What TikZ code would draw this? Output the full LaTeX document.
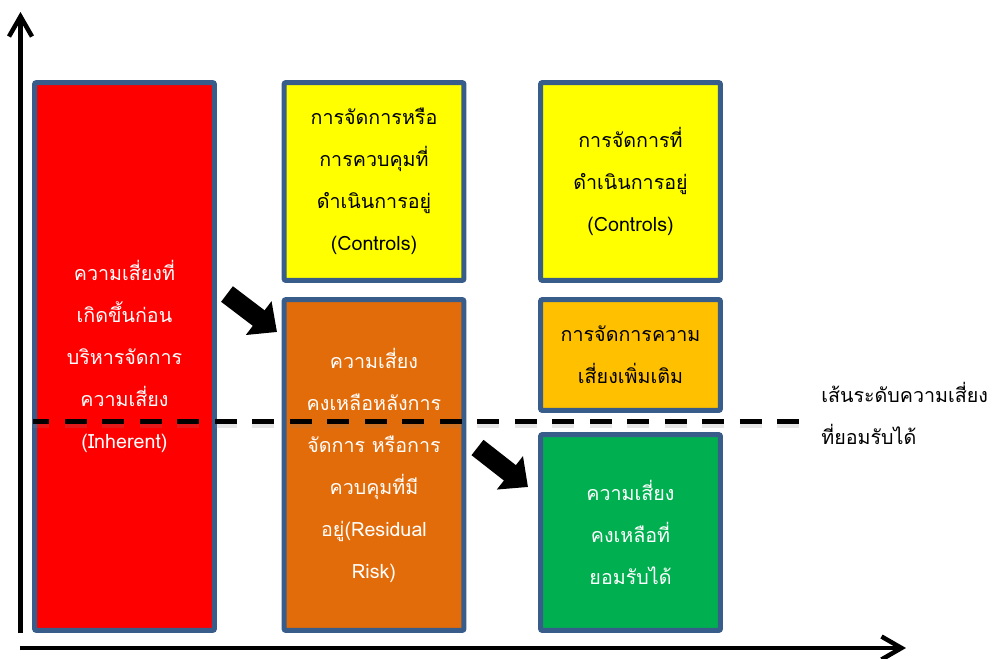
\documentclass[tikz,border=0pt]{standalone}
\usepackage{fontspec}
\newfontfamily\thaifont[Script=Thai]{Loma}
\usetikzlibrary{arrows.meta}
\definecolor{boxline}{RGB}{56,93,138}
\definecolor{riskred}{RGB}{255,0,0}
\definecolor{ctlyellow}{RGB}{255,255,0}
\definecolor{resorange}{RGB}{227,108,10}
\definecolor{addgold}{RGB}{255,192,0}
\definecolor{accgreen}{RGB}{0,176,80}
\begin{document}
\begin{tikzpicture}[x=0.02cm,y=-0.02cm,
  riskbox/.style={draw=boxline,line width=0.1cm,rounded corners=0.04cm,minimum width=3.6cm,inner sep=0pt,align=center,font=\thaifont\fontsize{11.2}{23.9}\selectfont},
  blockarrow/.style={line width=0.39cm,-{Triangle[length=0.46cm,width=0.82cm]}},
  axis/.style={line width=0.09cm,-{Straight Barb[length=0.4cm,width=0.46cm]}},
  level/.style={line width=0.1cm,dash pattern=on 0.44cm off 0.31cm,dash phase=0.11cm}]
\useasboundingbox (0,0) rectangle (994,659);
%\draw[step=50,gray,very thin] (0,0) grid (994,659); %background grid
% axes
\coordinate (o) at (20.5,633);
\coordinate (ytop) at (20.5,12);
\coordinate (xleft) at (20,648);
\coordinate (xright) at (906,648);
\draw[axis] (o) -- (ytop);
\draw[axis] (xleft) -- (xright);
% boxes
\node[riskbox,fill=riskred,text=white,minimum height=10.96cm] (inh) at (124.5,356.5)
  {ความเสี่ยงที่\\เกิดขึ้นก่อน\\บริหารจัดการ\\ความเสี่ยง\\(Inherent)};
\node[riskbox,fill=ctlyellow,minimum height=3.96cm] (ctl) at (374,181.5)
  {การจัดการหรือ\\การควบคุมที่\\ดำเนินการอยู่\\(Controls)};
\node[riskbox,fill=resorange,text=white,minimum height=6.62cm] (res) at (374,465)
  {ความเสี่ยง\\คงเหลือหลังการ\\จัดการ หรือการ\\ควบคุมที่มี\\อยู่(Residual\\Risk)};
\node[riskbox,fill=ctlyellow,minimum height=3.96cm] (ctlb) at (630.5,181.5)
  {การจัดการที่\\ดำเนินการอยู่\\(Controls)};
\node[riskbox,fill=addgold,minimum height=2.22cm] (add) at (630.5,355)
  {การจัดการความ\\เสี่ยงเพิ่มเติม};
\node[riskbox,fill=accgreen,text=white,minimum height=3.92cm] (acc) at (630.5,532.5)
  {ความเสี่ยง\\คงเหลือที่\\ยอมรับได้};
% acceptable level line
\coordinate (lvlL) at (33,421.5);
\coordinate (lvlR) at (799,421.5);
\draw[level,gray,opacity=0.2,line width=0.14cm,transform canvas={yshift=-0.06cm}] (lvlL) -- (lvlR);
\draw[level] (lvlL) -- (lvlR);
\node[anchor=west,align=left,inner sep=0pt,font=\thaifont\fontsize{11.2}{23.9}\selectfont] (lvltxt) at (821,413)
  {เส้นระดับความเสี่ยง\\ที่ยอมรับได้};
% block arrows
\coordinate (a1s) at (227,294);
\coordinate (a1e) at (277,332);
\coordinate (a2s) at (477.5,447.5);
\coordinate (a2e) at (528,487);
\draw[blockarrow] (a1s) -- (a1e);
\draw[blockarrow] (a2s) -- (a2e);
\end{tikzpicture}
\end{document}
